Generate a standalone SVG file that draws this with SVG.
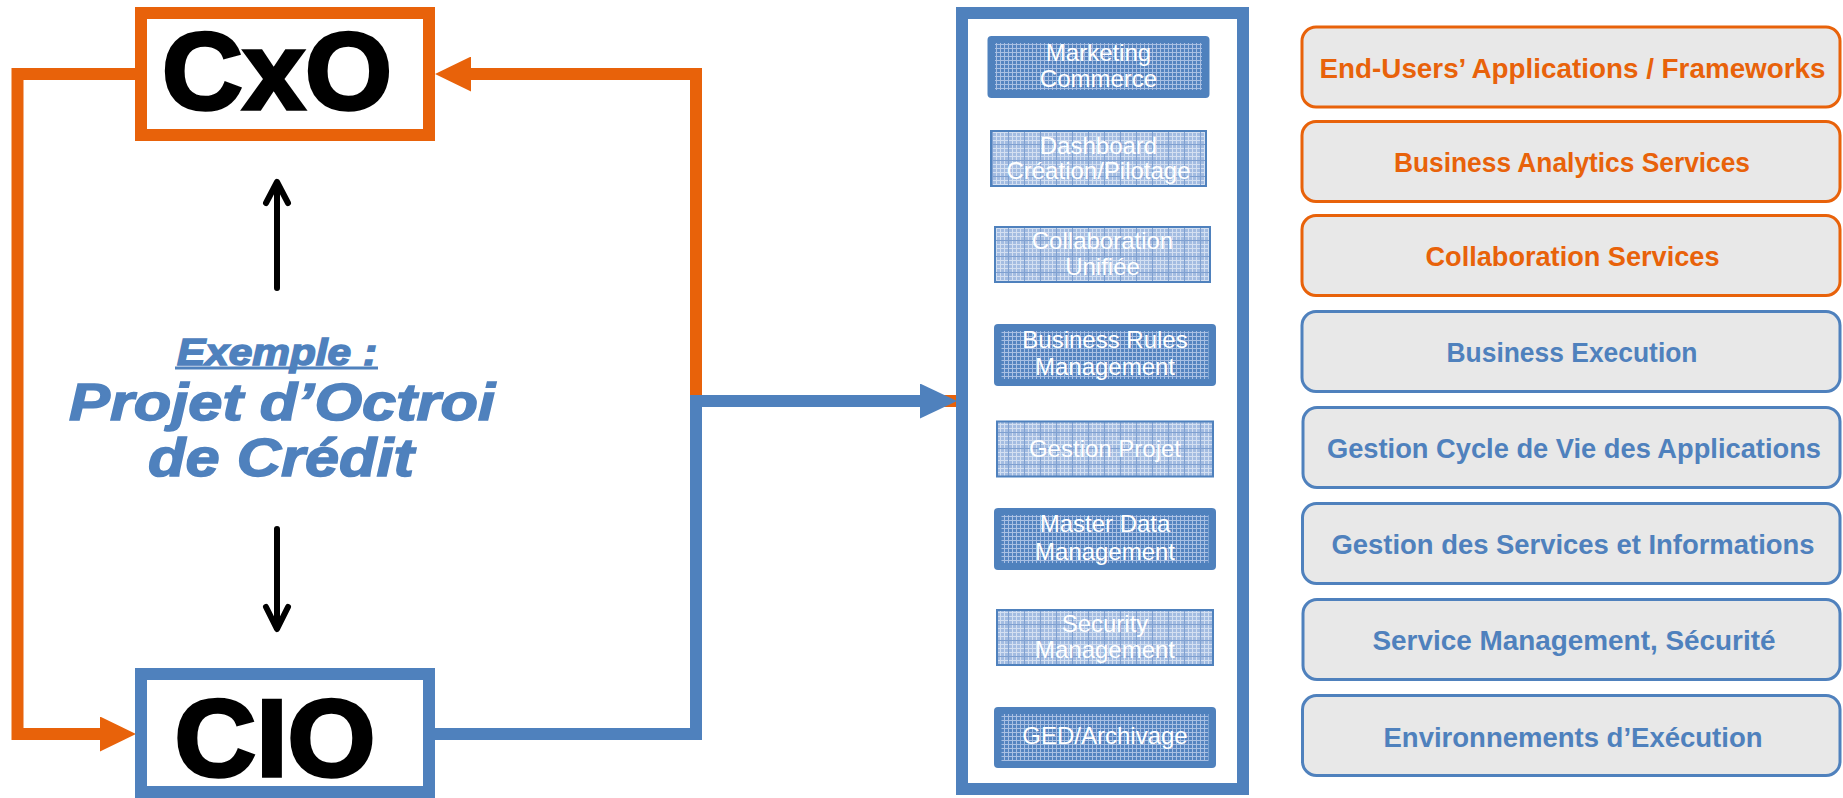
<svg xmlns="http://www.w3.org/2000/svg" width="1843" height="798" viewBox="0 0 1843 798">
<style>
.orange{fill:none;stroke:#E8620A;stroke-width:12;stroke-linejoin:miter}
.blue{fill:none;stroke:#4F81BD;stroke-width:12;stroke-linejoin:miter}
.black{fill:none;stroke:#000;stroke-width:6;stroke-linecap:round;stroke-linejoin:round}
.big{font-family:"Liberation Sans",Arial,sans-serif;font-weight:bold;font-size:110px;fill:#000;stroke:#000;stroke-width:3.5;text-anchor:middle}
.ital{font-family:"Liberation Sans",Arial,sans-serif;font-weight:bold;font-style:italic;fill:#4F81BD;stroke:#4F81BD;stroke-width:1.5;text-anchor:middle}
.mod{font-family:"Liberation Sans",Arial,sans-serif;font-size:24px;fill:#fff;text-anchor:middle}
.layer{fill:#E8E8E8;stroke-width:3}
.lo{stroke:#E8620A}
.lb{stroke:#4F81BD}
.lt{font-family:"Liberation Sans",Arial,sans-serif;font-weight:bold;font-size:28px;text-anchor:middle}
.to{fill:#E8620A}
.tb{fill:#4F81BD}
.dark{fill:#4F81BD}
.light{fill:url(#meshLight);stroke:#4F81BD;stroke-width:2}
</style>
<defs>
<pattern id="meshDark" width="4" height="4" patternUnits="userSpaceOnUse">
<rect width="4" height="4" fill="#5584C0"/>
<path d="M0,0.5H4M0.5,0V4" stroke="#A9C0E3" stroke-width="1"/>
</pattern>
<pattern id="meshLight" width="16" height="16" patternUnits="userSpaceOnUse">
<rect width="16" height="16" fill="#A3BCE1"/>
<path d="M0,4.5H16M0,8.5H16M0,12.5H16M4.5,0V16M8.5,0V16M12.5,0V16" stroke="#D3DFF1" stroke-width="1"/>
<path d="M0,0.5H16M0.5,0V16" stroke="#7FA0D0" stroke-width="1"/>
</pattern>
<marker id="arrO" markerUnits="userSpaceOnUse" markerWidth="36" markerHeight="35" refX="0" refY="17.5" orient="auto">
<path d="M0,0L36,17.5L0,35Z" fill="#E8620A"/>
</marker>
<marker id="arrB" markerUnits="userSpaceOnUse" markerWidth="37" markerHeight="35" refX="0" refY="17.5" orient="auto">
<path d="M0,0L37,17.5L0,35Z" fill="#4F81BD"/>
</marker>
</defs>
<rect width="1843" height="798" fill="#fff"/>

<g id="connectors">
<path class="orange" d="M956,401L696,401L696,74L471,74" marker-end="url(#arrO)"/>
<path class="orange" d="M135,74L17.5,74L17.5,734L100,734" marker-end="url(#arrO)"/>
<path class="blue" d="M435,734L696,734L696,401L920,401" marker-end="url(#arrB)"/>
<path class="black" d="M277,288V183M266,203L277,182L288,203"/>
<path class="black" d="M277,529V628M266,607L277,629L288,607"/>
</g>

<g id="cxo">
<rect x="141" y="13" width="288" height="122" fill="#fff" stroke="#E8620A" stroke-width="12"/>
<text class="big" x="277" y="109" textLength="230" lengthAdjust="spacingAndGlyphs">CxO</text>
</g>
<g id="cio">
<rect x="141" y="674" width="288" height="118" fill="#fff" stroke="#4F81BD" stroke-width="12"/>
<text class="big" x="275" y="776" textLength="201" lengthAdjust="spacingAndGlyphs">CIO</text>
</g>

<g id="example">
<text class="ital" x="277" y="365" font-size="36" textLength="200" lengthAdjust="spacingAndGlyphs">Exemple :</text>
<line x1="175" y1="368" x2="378" y2="368" stroke="#4F81BD" stroke-width="3"/>
<text class="ital" x="282" y="420" font-size="52" textLength="426" lengthAdjust="spacingAndGlyphs">Projet d’Octroi</text>
<text class="ital" x="281" y="476" font-size="54" textLength="266" lengthAdjust="spacingAndGlyphs">de Crédit</text>
</g>

<g id="panel">
<rect x="962" y="13" width="281" height="776" fill="#fff" stroke="#4F81BD" stroke-width="12"/>
</g>

<g id="m1">
<rect class="dark" x="987.5" y="36" width="222" height="62" rx="4"/>
<rect x="995" y="43" width="207" height="47" fill="url(#meshDark)"/>
<text class="mod" x="1098.5" y="61">Marketing</text>
<text class="mod" x="1098.5" y="87">Commerce</text>
</g>
<g id="m2">
<rect class="light" x="991" y="131" width="215" height="55"/>
<text class="mod" x="1098.5" y="154">Dashboard</text>
<text class="mod" x="1098.5" y="179">Création/Pilotage</text>
</g>
<g id="m3">
<rect class="light" x="995" y="227" width="215" height="55"/>
<text class="mod" x="1102.5" y="249">Collaboration</text>
<text class="mod" x="1102.5" y="275">Unifiée</text>
</g>
<g id="m4">
<rect class="dark" x="994" y="324" width="222" height="62" rx="4"/>
<rect x="1001.5" y="331" width="207" height="48" fill="url(#meshDark)"/>
<text class="mod" x="1105" y="348">Business Rules</text>
<text class="mod" x="1105" y="375">Management</text>
</g>
<g id="m5">
<rect class="light" x="997" y="421.5" width="216" height="55"/>
<text class="mod" x="1105" y="457">Gestion Projet</text>
</g>
<g id="m6">
<rect class="dark" x="994" y="508" width="222" height="62" rx="4"/>
<rect x="1001.5" y="515" width="207" height="48" fill="url(#meshDark)"/>
<text class="mod" x="1105" y="532">Master Data</text>
<text class="mod" x="1105" y="560">Management</text>
</g>
<g id="m7">
<rect class="light" x="997" y="610" width="216" height="55"/>
<text class="mod" x="1105" y="632">Security</text>
<text class="mod" x="1105" y="658">Management</text>
</g>
<g id="m8">
<rect class="dark" x="994" y="707" width="222" height="61" rx="4"/>
<rect x="1001.5" y="714" width="207" height="47" fill="url(#meshDark)"/>
<text class="mod" x="1105" y="744">GED/Archivage</text>
</g>

<g id="l1">
<rect class="layer lo" x="1302" y="27" width="538" height="80" rx="14"/>
<text class="lt to" x="1572.5" y="78" textLength="506" lengthAdjust="spacingAndGlyphs">End-Users’ Applications / Frameworks</text>
</g>
<g id="l2">
<rect class="layer lo" x="1302" y="121.5" width="538" height="80" rx="14"/>
<text class="lt to" x="1572" y="172" textLength="356" lengthAdjust="spacingAndGlyphs">Business Analytics Services</text>
</g>
<g id="l3">
<rect class="layer lo" x="1302" y="215.5" width="538" height="80" rx="14"/>
<text class="lt to" x="1572.5" y="266" textLength="294" lengthAdjust="spacingAndGlyphs">Collaboration Services</text>
</g>
<g id="l4">
<rect class="layer lb" x="1302" y="311.5" width="538" height="80" rx="14"/>
<text class="lt tb" x="1572" y="362" textLength="251" lengthAdjust="spacingAndGlyphs">Business Execution</text>
</g>
<g id="l5">
<rect class="layer lb" x="1303" y="407.5" width="537" height="80" rx="14"/>
<text class="lt tb" x="1574" y="458" textLength="494" lengthAdjust="spacingAndGlyphs">Gestion Cycle de Vie des Applications</text>
</g>
<g id="l6">
<rect class="layer lb" x="1302.5" y="503.5" width="537.5" height="80" rx="14"/>
<text class="lt tb" x="1573" y="554" textLength="483" lengthAdjust="spacingAndGlyphs">Gestion des Services et Informations</text>
</g>
<g id="l7">
<rect class="layer lb" x="1303" y="599.5" width="537" height="80" rx="14"/>
<text class="lt tb" x="1574" y="650" textLength="403" lengthAdjust="spacingAndGlyphs">Service Management, Sécurité</text>
</g>
<g id="l8">
<rect class="layer lb" x="1302.5" y="695.5" width="537.5" height="80" rx="14"/>
<text class="lt tb" x="1573" y="747" textLength="379" lengthAdjust="spacingAndGlyphs">Environnements d’Exécution</text>
</g>
</svg>
